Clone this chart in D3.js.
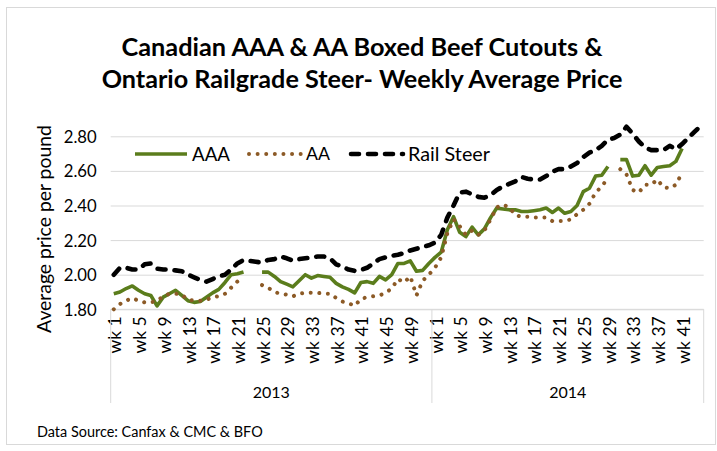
<!DOCTYPE html>
<html>
<head>
<meta charset="utf-8">
<script src="https://cdn.jsdelivr.net/npm/d3@7/dist/d3.min.js"></script>
<style>
  html, body { margin: 0; padding: 0; background: #fff; }
  svg { display: block; }
  text { font-family: Lato, "Open Sans", "Noto Sans", sans-serif; fill: #000; }
</style>
</head>
<body>
<svg id="chart" width="717" height="451"></svg>
<script>
// ---------------- data ----------------
const years = ["2013", "2014"];
const weekCounts = [52, 44];
const tickWeeks = [1, 5, 9, 13, 17, 21, 25, 29, 33, 37, 41, 45, 49];
const yTicks = [1.8, 2.0, 2.2, 2.4, 2.6, 2.8];
const seriesNames = ["AAA", "AA", "Rail Steer"];

const aaa2013 = [1.89, 1.90, 1.92, 1.935, 1.91, 1.89, 1.88, 1.82, 1.87, 1.89,
  1.91, 1.88, 1.85, 1.84, 1.845, 1.87, 1.895, 1.915, 1.955, 2.00,
  2.005, 2.015, null, null, 2.015, 2.015, 1.99, 1.96, 1.945, 1.93,
  1.965, 2.00, 1.98, 1.995, 1.99, 1.985, 1.95, 1.93, 1.915, 1.895,
  1.955, 1.96, 1.95, 1.99, 1.97, 2.00, 2.065, 2.065, 2.08, 2.02,
  2.025, 2.065];
const aaa2014 = [2.10, 2.13, 2.26, 2.335, 2.245, 2.22, 2.275, 2.23, 2.265, 2.33,
  2.385, 2.38, 2.375, 2.375, 2.365, 2.365, 2.37, 2.375, 2.385, 2.36,
  2.385, 2.355, 2.365, 2.40, 2.48, 2.50, 2.57, 2.575, 2.625, null,
  2.665, 2.665, 2.57, 2.575, 2.63, 2.575, 2.62, 2.625, 2.63, 2.655,
  2.73, null, null, null];

const aa2013 = [1.80, 1.83, 1.85, 1.865, 1.85, 1.84, 1.84, 1.85, 1.875, 1.89,
  1.89, 1.885, 1.855, 1.85, 1.85, 1.855, 1.87, 1.875, 1.89, 1.925,
  1.96, null, null, null, 1.94, 1.925, 1.90, 1.89, 1.885, 1.875,
  1.89, 1.895, 1.895, 1.895, 1.89, 1.89, 1.865, 1.845, 1.835, 1.82,
  1.86, 1.87, 1.875, 1.88, 1.895, 1.92, 1.975, 1.955, 1.99, 1.88,
  1.965, 2.00];
const aa2014 = [2.04, 2.10, 2.24, 2.32, 2.28, 2.23, 2.255, 2.23, 2.255, 2.32,
  2.39, 2.405, 2.39, 2.345, 2.335, 2.335, 2.33, 2.33, 2.33, 2.31,
  2.31, 2.31, 2.32, 2.35, 2.375, 2.41, 2.475, 2.51, 2.56, null,
  2.61, 2.58, 2.49, 2.475, 2.52, 2.52, 2.55, 2.505, 2.50, 2.52,
  2.59, null, null, null];

const rail2013 = [2.00, 2.04, 2.04, 2.03, 2.03, 2.06, 2.065, 2.035, 2.03, 2.03,
  2.025, 2.02, 2.00, 1.985, 1.97, 1.96, 1.975, 1.99, 2.00, 2.03,
  2.065, 2.085, 2.08, 2.075, 2.07, 2.085, 2.09, 2.105, 2.095, 2.08,
  2.09, 2.095, 2.10, 2.105, 2.105, 2.095, 2.06, 2.045, 2.03, 2.022,
  2.027, 2.04, 2.065, 2.09, 2.10, 2.11, 2.115, 2.125, 2.14, 2.15,
  2.16, 2.17];
const rail2014 = [2.185, 2.23, 2.33, 2.40, 2.475, 2.48, 2.465, 2.45, 2.445, 2.46,
  2.49, 2.51, 2.525, 2.54, 2.565, 2.555, 2.55, 2.55, 2.57, 2.595,
  2.61, 2.61, 2.625, 2.645, 2.68, 2.705, 2.72, 2.745, 2.78, 2.79,
  2.81, 2.855, 2.815, 2.77, 2.735, 2.72, 2.72, 2.72, 2.745, 2.725,
  2.755, 2.79, 2.825, 2.86];

// ---------------- build ----------------
const categories = [];
years.forEach((y, i) => {
  for (let w = 1; w <= weekCounts[i]; w++) categories.push({ year: y, week: w, key: y + "-" + w });
});
const keys = categories.map(c => c.key);
const series = [
  { name: seriesNames[0], values: aaa2013.concat(aaa2014), color: "#5b7d1c", width: 3.6, dash: null, cap: "butt" },
  { name: seriesNames[1], values: aa2013.concat(aa2014), color: "#8c5a26", width: 4, dash: "0.01 8.6", cap: "round" },
  { name: seriesNames[2], values: rail2013.concat(rail2014), color: "#000000", width: 4.6, dash: "8 9", cap: "round" }
];

const svg = d3.select("#chart");
const W = 717, H = 451;
const plot = { left: 110.7, right: 703.7, top: 119.0, bottom: 309.3 };

svg.append("rect").attr("width", W).attr("height", H).attr("fill", "#fff");
svg.append("rect").attr("x", 6.5).attr("y", 7.5).attr("width", 709).attr("height", 437)
  .attr("fill", "none").attr("stroke", "#d9d9d9").attr("stroke-width", 1);

const x = d3.scaleBand().domain(keys).range([plot.left, plot.right]).padding(0);
const y = d3.scaleLinear().domain([1.8, 2.9]).range([plot.bottom, plot.top]);

function fitWidth(sel, target) {
  const w = sel.node().getComputedTextLength();
  const fs = parseFloat(sel.attr("font-size"));
  if (w > 0) sel.attr("font-size", (fs * target / w).toFixed(2));
}

// gridlines + y labels
const yAxis = d3.axisLeft(y).tickValues(yTicks).tickFormat(d3.format(".2f"))
  .tickSize(-(plot.right - plot.left)).tickPadding(14);
const gy = svg.append("g").attr("transform", `translate(${plot.left},0)`).call(yAxis);
gy.select(".domain").remove();
gy.selectAll(".tick line").attr("stroke", "#d9d9d9").attr("stroke-width", 1);
gy.selectAll(".tick text").attr("font-size", 17).attr("fill", "#000")
  .attr("font-family", "Lato, 'Open Sans', sans-serif").attr("dy", "0.36em");
gy.selectAll(".tick text").each(function () { fitWidth(d3.select(this), 33); });

// x axis week labels
const tickKeys = categories.filter(c => tickWeeks.includes(c.week)).map(c => c.key);
const xAxis = d3.axisBottom(x).tickValues(tickKeys)
  .tickFormat(k => "wk " + k.split("-")[1]).tickSize(0);
const gx = svg.append("g").attr("transform", `translate(0,${plot.bottom})`).call(xAxis);
gx.select(".domain").remove();
gx.selectAll(".tick text")
  .attr("font-size", 17.5).attr("font-family", "Lato, 'Open Sans', sans-serif").attr("fill", "#000")
  .attr("transform", "rotate(-90)").attr("text-anchor", "end")
  .attr("x", -7).attr("y", 1.5).attr("dy", "0.35em");

// axis base line
svg.append("line").attr("x1", plot.left).attr("x2", plot.right)
  .attr("y1", plot.bottom).attr("y2", plot.bottom).attr("stroke", "#d9d9d9");

// group separators and year labels
const groupBounds = years.map(yr => {
  const ks = categories.filter(c => c.year === yr).map(c => c.key);
  return { year: yr, x0: x(ks[0]), x1: x(ks[ks.length - 1]) + x.bandwidth() };
});
const seps = [groupBounds[0].x0].concat(groupBounds.map(g => g.x1));
svg.selectAll(".sep").data(seps).enter().append("line")
  .attr("x1", d => d).attr("x2", d => d).attr("y1", plot.bottom).attr("y2", 403)
  .attr("stroke", "#d9d9d9").attr("stroke-width", 1);
svg.selectAll(".yr").data(groupBounds).enter().append("text")
  .attr("x", d => (d.x0 + d.x1) / 2).attr("y", 398)
  .attr("text-anchor", "middle").attr("font-size", 16).text(d => d.year);

// lines
svg.append("clipPath").attr("id", "clip").append("rect")
  .attr("x", plot.left).attr("y", plot.top - 6).attr("width", plot.right - plot.left + 4)
  .attr("height", plot.bottom - plot.top + 12);
const line = d3.line()
  .defined(d => d.v !== null)
  .x(d => x(d.key) + x.bandwidth() / 2)
  .y(d => y(d.v));
const gl = svg.append("g").attr("clip-path", "url(#clip)");
series.forEach(s => {
  const pts = keys.map((k, i) => ({ key: k, v: s.values[i] }));
  gl.append("path").datum(pts).attr("d", line)
    .attr("fill", "none").attr("stroke", s.color).attr("stroke-width", s.width)
    .attr("stroke-linejoin", "round").attr("stroke-linecap", s.cap)
    .attr("stroke-dasharray", s.dash);
});

// legend
const legendItems = [
  { s: series[0], x0: 135, x1: 187, tx: 192, tw: 38 },
  { s: series[1], x0: 249, x1: 301, tx: 306, tw: 24 },
  { s: series[2], x0: 351, x1: 403, tx: 408, tw: 82 }
];
const ly = 154;
legendItems.forEach(it => {
  svg.append("line").attr("x1", it.x0).attr("x2", it.x1).attr("y1", ly).attr("y2", ly)
    .attr("stroke", it.s.color).attr("stroke-width", it.s.width)
    .attr("stroke-linecap", it.s.cap).attr("stroke-dasharray", it.s.dash);
  const t = svg.append("text").attr("x", it.tx).attr("y", ly).attr("dy", "0.36em")
    .attr("font-size", 20).text(it.s.name);
  fitWidth(t, it.tw);
});

// y axis title
const yt = svg.append("text").attr("transform", "translate(51,229) rotate(-90)")
  .attr("text-anchor", "middle").attr("font-size", 18).text("Average price per pound");
fitWidth(yt, 208);

// title
const t1 = svg.append("text").attr("x", 362).attr("y", 56).attr("text-anchor", "middle")
  .attr("font-size", 24).attr("font-weight", "bold").text("Canadian AAA & AA Boxed Beef Cutouts &");
fitWidth(t1, 481);
const t2 = svg.append("text").attr("x", 362).attr("y", 88).attr("text-anchor", "middle")
  .attr("font-size", 24).attr("font-weight", "bold").text("Ontario Railgrade Steer- Weekly Average Price");
fitWidth(t2, 521);

// source
const src = svg.append("text").attr("x", 37).attr("y", 437).attr("font-size", 13)
  .text("Data Source: Canfax & CMC & BFO");
fitWidth(src, 226);
</script>
</body>
</html>
